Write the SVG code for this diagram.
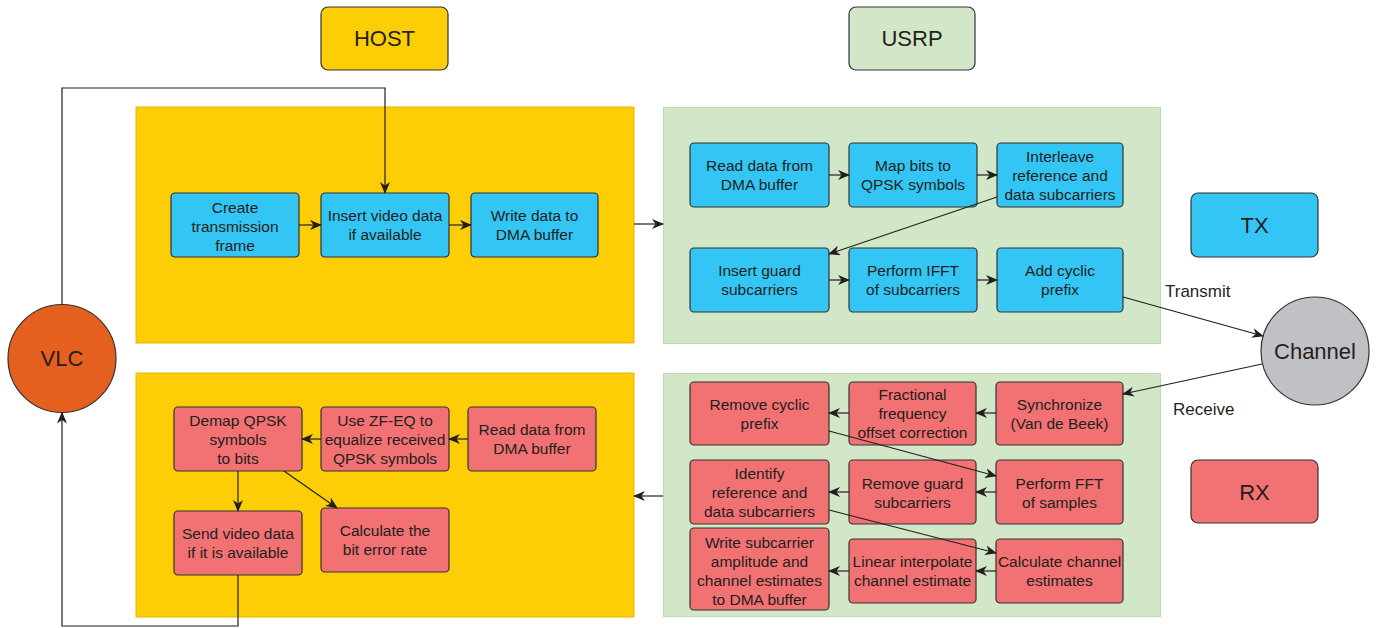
<svg xmlns="http://www.w3.org/2000/svg" width="1381" height="628" viewBox="0 0 1381 628">
<defs>
<marker id="ah" viewBox="0 0 12 10" refX="11" refY="5" markerWidth="12" markerHeight="10" markerUnits="userSpaceOnUse" orient="auto">
<path d="M0,0 L12,5 L0,10 L3.5,5 z" fill="#231F20"/>
</marker>
<style>
text{font-family:"Liberation Sans",Arial,sans-serif;fill:#231F20;text-anchor:middle}
.t{font-size:15.5px}
.big{font-size:22px}
.lbl{font-size:17px;text-anchor:start}
.b{fill:#33C5F3;stroke:#333;stroke-width:1.2}
.r{fill:#F27173;stroke:#333;stroke-width:1.2}
.y{fill:#FDCD05}
.g{fill:#D1E7C7}
.c{fill:none;stroke:#231F20;stroke-width:1.2}
.ca{fill:none;stroke:#231F20;stroke-width:1.2;marker-end:url(#ah)}
</style>
</defs>
<rect width="1381" height="628" fill="#fff"/>

<g id="panels">
<rect class="y" x="136" y="107" width="498" height="236" stroke="#E8B800" stroke-width="1"/>
<rect class="g" x="663.5" y="107.5" width="497" height="236" stroke="#BBD8AE" stroke-width="1"/>
<rect class="y" x="136" y="373" width="498" height="244" stroke="#E8B800" stroke-width="1"/>
<rect class="g" x="663.5" y="373.5" width="497" height="243" stroke="#BBD8AE" stroke-width="1"/>
</g>

<g id="host-label"><rect x="321" y="7" width="127" height="63" rx="7" fill="#FDCD05" stroke="#333" stroke-width="1.2"/><text class="big" x="384.5" y="46">HOST</text></g>
<g id="usrp-label"><rect x="849" y="7" width="126" height="63" rx="7" fill="#D1E7C7" stroke="#333" stroke-width="1.2"/><text class="big" x="912" y="46">USRP</text></g>
<g id="tx-label"><rect x="1191" y="193" width="127" height="64" rx="7" class="b"/><text class="big" x="1254.5" y="233">TX</text></g>
<g id="rx-label"><rect x="1191" y="460" width="127" height="63" rx="7" class="r"/><text class="big" x="1254.5" y="499.5">RX</text></g>

<g id="vlc"><circle cx="62" cy="358.5" r="54" fill="#E5601F" stroke="#333" stroke-width="1.2"/><text class="big" x="62" y="366">VLC</text></g>
<g id="channel"><circle cx="1315" cy="351" r="54" fill="#C0C1C4" stroke="#333" stroke-width="1.2"/><text class="big" x="1315" y="359">Channel</text></g>

<g id="n-create"><rect class="b" x="171" y="193" width="128" height="64" rx="4"/><text class="t" x="235"><tspan x="235" y="212.5">Create</tspan><tspan x="235" y="231.5">transmission</tspan><tspan x="235" y="250.5">frame</tspan></text></g>
<g id="n-insertvideo"><rect class="b" x="321" y="193" width="128" height="64" rx="4"/><text class="t"><tspan x="385" y="221">Insert video data</tspan><tspan x="385" y="240">if available</tspan></text></g>
<g id="n-writedma"><rect class="b" x="471" y="193" width="127" height="64" rx="4"/><text class="t"><tspan x="534.5" y="221">Write data to</tspan><tspan x="534.5" y="240">DMA buffer</tspan></text></g>

<g id="n-readdma-tx"><rect class="b" x="690" y="143" width="139" height="64" rx="4"/><text class="t"><tspan x="759.5" y="171">Read data from</tspan><tspan x="759.5" y="190">DMA buffer</tspan></text></g>
<g id="n-map"><rect class="b" x="849" y="143" width="128" height="64" rx="4"/><text class="t"><tspan x="913" y="171">Map bits to</tspan><tspan x="913" y="190">QPSK symbols</tspan></text></g>
<g id="n-interleave"><rect class="b" x="997" y="143" width="126" height="64" rx="4"/><text class="t"><tspan x="1060" y="161.5">Interleave</tspan><tspan x="1060" y="180.5">reference and</tspan><tspan x="1060" y="199.5">data subcarriers</tspan></text></g>
<g id="n-insertguard"><rect class="b" x="690" y="248" width="139" height="64" rx="4"/><text class="t"><tspan x="759.5" y="276">Insert guard</tspan><tspan x="759.5" y="295">subcarriers</tspan></text></g>
<g id="n-ifft"><rect class="b" x="849" y="248" width="128" height="64" rx="4"/><text class="t"><tspan x="913" y="276">Perform IFFT</tspan><tspan x="913" y="295">of subcarriers</tspan></text></g>
<g id="n-addcp"><rect class="b" x="997" y="248" width="126" height="64" rx="4"/><text class="t"><tspan x="1060" y="276">Add cyclic</tspan><tspan x="1060" y="295">prefix</tspan></text></g>

<g id="n-removecp"><rect class="r" x="690" y="382" width="139" height="63" rx="4"/><text class="t"><tspan x="759.5" y="410">Remove cyclic</tspan><tspan x="759.5" y="429">prefix</tspan></text></g>
<g id="n-fractional"><rect class="r" x="849" y="382" width="127" height="63" rx="4"/><text class="t"><tspan x="912.5" y="400">Fractional</tspan><tspan x="912.5" y="419">frequency</tspan><tspan x="912.5" y="438">offset correction</tspan></text></g>
<g id="n-sync"><rect class="r" x="996" y="382" width="127" height="63" rx="4"/><text class="t"><tspan x="1059.5" y="410">Synchronize</tspan><tspan x="1059.5" y="429">(Van de Beek)</tspan></text></g>
<g id="n-identify"><rect class="r" x="690" y="460" width="139" height="64" rx="4"/><text class="t"><tspan x="759.5" y="479">Identify</tspan><tspan x="759.5" y="498">reference and</tspan><tspan x="759.5" y="517">data subcarriers</tspan></text></g>
<g id="n-removeguard"><rect class="r" x="849" y="460" width="127" height="64" rx="4"/><text class="t"><tspan x="912.5" y="489">Remove guard</tspan><tspan x="912.5" y="508">subcarriers</tspan></text></g>
<g id="n-fft"><rect class="r" x="996" y="460" width="127" height="64" rx="4"/><text class="t"><tspan x="1059.5" y="489">Perform FFT</tspan><tspan x="1059.5" y="508">of samples</tspan></text></g>
<g id="n-writesub"><rect class="r" x="690" y="528" width="139" height="82" rx="4"/><text class="t"><tspan x="759.5" y="547.5">Write subcarrier</tspan><tspan x="759.5" y="566.5">amplitude and</tspan><tspan x="759.5" y="585.5">channel estimates</tspan><tspan x="759.5" y="604.5">to DMA buffer</tspan></text></g>
<g id="n-linear"><rect class="r" x="849" y="539" width="127" height="64" rx="4"/><text class="t"><tspan x="912.5" y="567">Linear interpolate</tspan><tspan x="912.5" y="586">channel estimate</tspan></text></g>
<g id="n-calcchan"><rect class="r" x="996" y="539" width="127" height="64" rx="4"/><text class="t"><tspan x="1059.5" y="567">Calculate channel</tspan><tspan x="1059.5" y="586">estimates</tspan></text></g>

<g id="n-demap"><rect class="r" x="174" y="407" width="128" height="64" rx="4"/><text class="t"><tspan x="238" y="425.5">Demap QPSK</tspan><tspan x="238" y="444.5">symbols</tspan><tspan x="238" y="463.5">to bits</tspan></text></g>
<g id="n-zfeq"><rect class="r" x="321" y="407" width="128" height="64" rx="4"/><text class="t"><tspan x="385" y="425.5">Use ZF-EQ to</tspan><tspan x="385" y="444.5">equalize received</tspan><tspan x="385" y="463.5">QPSK symbols</tspan></text></g>
<g id="n-readdma-rx"><rect class="r" x="468" y="407" width="128" height="64" rx="4"/><text class="t"><tspan x="532" y="435">Read data from</tspan><tspan x="532" y="454">DMA buffer</tspan></text></g>
<g id="n-sendvideo"><rect class="r" x="174" y="511" width="128" height="64" rx="4"/><text class="t"><tspan x="238" y="539">Send video data</tspan><tspan x="238" y="558">if it is available</tspan></text></g>
<g id="n-ber"><rect class="r" x="321" y="508" width="128" height="64" rx="4"/><text class="t"><tspan x="385" y="536">Calculate the</tspan><tspan x="385" y="555">bit error rate</tspan></text></g>

<g id="connectors">
<path class="ca" d="M62,304.5 V88 H385 V193" stroke="#444"/>
<path class="ca" d="M299,225 H321"/>
<path class="ca" d="M449,225 H471"/>
<path class="ca" d="M634,224 H663"/>
<path class="ca" d="M829,175 H849"/>
<path class="ca" d="M977,175 H997"/>
<path class="ca" d="M997,197 L829,254"/>
<path class="ca" d="M829,280 H849"/>
<path class="ca" d="M977,280 H997"/>
<path class="ca" d="M1123,297 L1263,336"/>
<path class="ca" d="M1262,364 L1123,394"/>
<path class="ca" d="M996,413 H976"/>
<path class="ca" d="M849,413 H829"/>
<path class="ca" d="M829,431 L996,476"/>
<path class="ca" d="M996,492 H976"/>
<path class="ca" d="M849,492 H829"/>
<path class="ca" d="M829,510 L996,553"/>
<path class="ca" d="M996,571 H976"/>
<path class="ca" d="M849,571 H829"/>
<path class="ca" d="M663,496 H634"/>
<path class="ca" d="M468,439 H449"/>
<path class="ca" d="M321,439 H302"/>
<path class="ca" d="M238,471 V511"/>
<path class="ca" d="M284,471 L337,508"/>
<path class="ca" d="M238,575 V626 H62 V412.5"/>
</g>

<g id="labels">
<text class="lbl" x="1165" y="297">Transmit</text>
<text class="lbl" x="1173" y="415">Receive</text>
</g>
</svg>
